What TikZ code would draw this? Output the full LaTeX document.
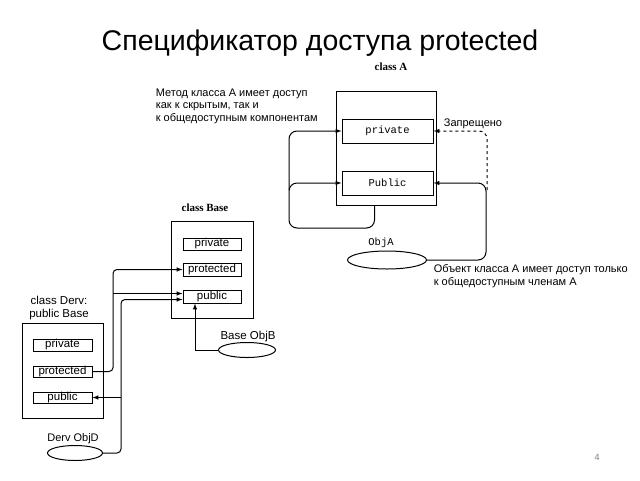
\documentclass[tikz,border=0pt]{standalone}
\usepackage{fontspec}
\setmainfont{Liberation Sans}
\setmonofont{Liberation Mono}
\newfontfamily\clsfont{Liberation Serif}
\usetikzlibrary{shapes.geometric}

\begin{document}
\begin{tikzpicture}[x=1pt,y=-1pt,line width=1pt,
		box/.style={draw,minimum width=#1,inner sep=0pt},
		member/.style={draw,inner sep=0pt,font=\fontsize{11.5}{12}\selectfont},
		monomember/.style={member,minimum width=91pt,minimum height=24pt,font=\ttfamily\fontsize{10.5}{12}\selectfont},
		obj/.style={draw,ellipse,inner sep=0pt},
		clsname/.style={font=\clsfont\bfseries\fontsize{11}{12}\selectfont},
		note/.style={font=\fontsize{11}{12.5}\selectfont,align=left,anchor=north west},
		arr/.style={-latex}]
		\useasboundingbox (0,0) rectangle (640,480);
		% title
		\node[anchor=base,font=\fontsize{28.5}{32}\selectfont] (title) at (320,50) {Спецификатор доступа protected};
		\node[text=gray,font=\fontsize{9}{10}\selectfont] (page) at (597,457) {4};

		% class A
		\node[clsname] (nameA) at (391,67) {class A};
		\node[box=100pt,minimum height=114pt] (clsA) at (386.5,148) {};
		\node[monomember] (privA) at (387.5,131) {private};
		\node[monomember] (pubA) at (387.5,183) {Public};
		\node[obj,minimum width=79pt,minimum height=18pt] (objA) at (387,260) {};
		\node[font=\ttfamily\fontsize{10.5}{12}\selectfont] (labA) at (381,243) {ObjA};
		\node[note] (noteM) at (152,85) {Метод класса А имеет доступ\\как к скрытым, так и\\к общедоступным компонентам};
		\node[note] (noteO) at (430,261) {Объект класса А имеет доступ только\\к общедоступным членам А};
		\node[font=\fontsize{11}{12}\selectfont] (deny) at (473,124) {Запрещено};

		\coordinate (jA) at (289,228);
		\draw[arr,rounded corners=8pt] ([xshift=-12pt]clsA.south) |- (jA) |- (pubA.west);
		\draw[arr,rounded corners=8pt] (289,190) |- (privA.west);
		\draw[arr,rounded corners=8pt] (objA.east) -| (486,183) -- (pubA.east);
		\draw[arr,dashed,rounded corners=8pt] (487,190) |- (privA.east);

		% class Base
		\node[clsname] (nameB) at (205,208) {class Base};
		\node[box=82pt,minimum height=97pt] (clsB) at (212,269.5) {};
		\node[member,minimum width=58pt,minimum height=12pt] (privB) at (212,244) {private};
		\node[member,minimum width=58pt,minimum height=13pt] (protB) at (212,269.5) {protected};
		\node[member,minimum width=58pt,minimum height=13pt] (pubB) at (212,296.5) {public};
		\node[obj,minimum width=57pt,minimum height=15pt] (objB) at (247,350) {};
		\node[font=\fontsize{11.5}{12}\selectfont] (labB) at (248,337) {Base ObjB};
		\draw[arr] (objB.west) -| ([xshift=-17pt]pubB.south);

		% class Derv
		\node[font=\fontsize{11.5}{13}\selectfont,align=center] (nameD) at (59,308) {class Derv:\\public Base};
		\node[box=81pt,minimum height=95pt] (clsD) at (62.5,370.5) {};
		\node[member,minimum width=59pt,minimum height=12pt] (privD) at (62.5,345) {private};
		\node[member,minimum width=59pt,minimum height=11pt] (protD) at (62.5,371.5) {protected};
		\node[member,minimum width=59pt,minimum height=11pt] (pubD) at (62.5,397.5) {public};
		\node[obj,minimum width=55pt,minimum height=15pt] (objD) at (75,453) {};
		\node[font=\fontsize{11}{12}\selectfont] (labD) at (73,439) {Derv ObjD};

		\coordinate (jD) at (113,0);
		\coordinate (jO) at (121,0);
		\coordinate (pubB1) at ([yshift=3pt]pubB.west);
		\coordinate (pubB2) at ([yshift=-3pt]pubB.west);
		\draw[arr,rounded corners=4pt] (protD.east) -| (jD |- protB.west) -- (protB.west);
		\draw[arr] (jD |- pubB1) -- (pubB1);
		\draw[arr,rounded corners=4pt] (objD.east) -| (jO |- pubB2) -- (pubB2);
		\draw[arr] (jO |- pubD.east) -- (pubD.east);
	\end{tikzpicture}
\end{document}
